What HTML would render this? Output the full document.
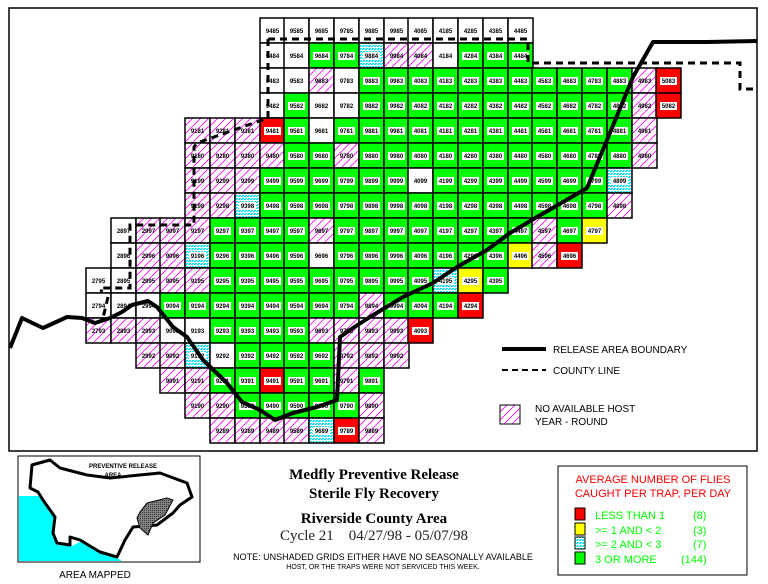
<!DOCTYPE html>
<html><head><meta charset="utf-8"><style>
body{margin:0;background:#fff;width:768px;height:584px;overflow:hidden}
svg{display:block}
rect.w,rect.g,rect.r,rect.y,rect.c,rect.h{width:25px;height:25px;stroke:#000;stroke-width:1.5}
rect.w{fill:#fff}rect.g{fill:#00ff00}rect.r{fill:#ff0000}rect.y{fill:#ffff00}rect.c{fill:url(#cy)}rect.h{fill:url(#ht)}
rect.l{width:17px;height:8px;fill:#fff}
text.t{font:bold 6px "Liberation Sans",sans-serif;text-anchor:middle}
</style></head><body>
<svg width="768" height="584" viewBox="0 0 768 584">
<defs>
<pattern id="ht" patternUnits="userSpaceOnUse" width="8" height="8"><rect width="8" height="8" fill="#fff"/><path d="M-1,9 L9,-1" stroke="#ff00ff" stroke-width="0.8"/></pattern>
<pattern id="cy" patternUnits="userSpaceOnUse" width="3" height="3"><rect width="3" height="3" fill="#fff"/><rect width="2" height="1" fill="#00e8ff"/><rect x="1" y="2" width="2" height="1" fill="#00e8ff"/></pattern>
<pattern id="gy" patternUnits="userSpaceOnUse" width="2" height="2"><rect width="2" height="2" fill="#808080"/><rect width="1" height="1" fill="#404040"/></pattern>
</defs>
<rect x="9" y="8" width="748" height="443" fill="none" stroke="#000" stroke-width="1.5"/>
<g>
<g transform="translate(260,18)"><rect class="w"/><text class="t" x="12.5" y="15">9485</text></g>
<g transform="translate(284,18)"><rect class="w"/><text class="t" x="12.5" y="15">9585</text></g>
<g transform="translate(309,18)"><rect class="w"/><text class="t" x="12.5" y="15">9685</text></g>
<g transform="translate(334,18)"><rect class="w"/><text class="t" x="12.5" y="15">9785</text></g>
<g transform="translate(359,18)"><rect class="w"/><text class="t" x="12.5" y="15">9885</text></g>
<g transform="translate(384,18)"><rect class="w"/><text class="t" x="12.5" y="15">9985</text></g>
<g transform="translate(408,18)"><rect class="w"/><text class="t" x="12.5" y="15">4085</text></g>
<g transform="translate(433,18)"><rect class="w"/><text class="t" x="12.5" y="15">4185</text></g>
<g transform="translate(458,18)"><rect class="w"/><text class="t" x="12.5" y="15">4285</text></g>
<g transform="translate(483,18)"><rect class="w"/><text class="t" x="12.5" y="15">4385</text></g>
<g transform="translate(508,18)"><rect class="w"/><text class="t" x="12.5" y="15">4485</text></g>
<g transform="translate(260,43)"><rect class="w"/><text class="t" x="12.5" y="15">9484</text></g>
<g transform="translate(284,43)"><rect class="w"/><text class="t" x="12.5" y="15">9584</text></g>
<g transform="translate(309,43)"><rect class="g"/><rect class="l" x="4" y="9"/><text class="t" x="12.5" y="15">9684</text></g>
<g transform="translate(334,43)"><rect class="g"/><rect class="l" x="4" y="9"/><text class="t" x="12.5" y="15">9784</text></g>
<g transform="translate(359,43)"><rect class="c"/><rect class="l" x="4" y="9"/><text class="t" x="12.5" y="15">9884</text></g>
<g transform="translate(384,43)"><rect class="h"/><text class="t" x="12.5" y="15">9984</text></g>
<g transform="translate(408,43)"><rect class="h"/><text class="t" x="12.5" y="15">4084</text></g>
<g transform="translate(433,43)"><rect class="w"/><text class="t" x="12.5" y="15">4184</text></g>
<g transform="translate(458,43)"><rect class="g"/><rect class="l" x="4" y="9"/><text class="t" x="12.5" y="15">4284</text></g>
<g transform="translate(483,43)"><rect class="g"/><rect class="l" x="4" y="9"/><text class="t" x="12.5" y="15">4384</text></g>
<g transform="translate(508,43)"><rect class="g"/><rect class="l" x="4" y="9"/><text class="t" x="12.5" y="15">4484</text></g>
<g transform="translate(260,68)"><rect class="w"/><text class="t" x="12.5" y="15">9483</text></g>
<g transform="translate(284,68)"><rect class="w"/><text class="t" x="12.5" y="15">9583</text></g>
<g transform="translate(309,68)"><rect class="h"/><text class="t" x="12.5" y="15">9683</text></g>
<g transform="translate(334,68)"><rect class="w"/><text class="t" x="12.5" y="15">9783</text></g>
<g transform="translate(359,68)"><rect class="g"/><rect class="l" x="4" y="9"/><text class="t" x="12.5" y="15">9883</text></g>
<g transform="translate(384,68)"><rect class="g"/><rect class="l" x="4" y="9"/><text class="t" x="12.5" y="15">9983</text></g>
<g transform="translate(408,68)"><rect class="g"/><rect class="l" x="4" y="9"/><text class="t" x="12.5" y="15">4083</text></g>
<g transform="translate(433,68)"><rect class="g"/><rect class="l" x="4" y="9"/><text class="t" x="12.5" y="15">4183</text></g>
<g transform="translate(458,68)"><rect class="g"/><rect class="l" x="4" y="9"/><text class="t" x="12.5" y="15">4283</text></g>
<g transform="translate(483,68)"><rect class="g"/><rect class="l" x="4" y="9"/><text class="t" x="12.5" y="15">4383</text></g>
<g transform="translate(508,68)"><rect class="g"/><rect class="l" x="4" y="9"/><text class="t" x="12.5" y="15">4483</text></g>
<g transform="translate(532,68)"><rect class="g"/><rect class="l" x="4" y="9"/><text class="t" x="12.5" y="15">4583</text></g>
<g transform="translate(557,68)"><rect class="g"/><rect class="l" x="4" y="9"/><text class="t" x="12.5" y="15">4683</text></g>
<g transform="translate(582,68)"><rect class="g"/><rect class="l" x="4" y="9"/><text class="t" x="12.5" y="15">4783</text></g>
<g transform="translate(607,68)"><rect class="g"/><rect class="l" x="4" y="9"/><text class="t" x="12.5" y="15">4883</text></g>
<g transform="translate(632,68)"><rect class="h"/><text class="t" x="12.5" y="15">4983</text></g>
<g transform="translate(656,68)"><rect class="r"/><rect class="l" x="4" y="9"/><text class="t" x="12.5" y="15">5083</text></g>
<g transform="translate(260,93)"><rect class="w"/><text class="t" x="12.5" y="15">9482</text></g>
<g transform="translate(284,93)"><rect class="g"/><rect class="l" x="4" y="9"/><text class="t" x="12.5" y="15">9582</text></g>
<g transform="translate(309,93)"><rect class="w"/><text class="t" x="12.5" y="15">9682</text></g>
<g transform="translate(334,93)"><rect class="w"/><text class="t" x="12.5" y="15">9782</text></g>
<g transform="translate(359,93)"><rect class="g"/><rect class="l" x="4" y="9"/><text class="t" x="12.5" y="15">9882</text></g>
<g transform="translate(384,93)"><rect class="g"/><rect class="l" x="4" y="9"/><text class="t" x="12.5" y="15">9982</text></g>
<g transform="translate(408,93)"><rect class="g"/><rect class="l" x="4" y="9"/><text class="t" x="12.5" y="15">4082</text></g>
<g transform="translate(433,93)"><rect class="g"/><rect class="l" x="4" y="9"/><text class="t" x="12.5" y="15">4182</text></g>
<g transform="translate(458,93)"><rect class="g"/><rect class="l" x="4" y="9"/><text class="t" x="12.5" y="15">4282</text></g>
<g transform="translate(483,93)"><rect class="g"/><rect class="l" x="4" y="9"/><text class="t" x="12.5" y="15">4382</text></g>
<g transform="translate(508,93)"><rect class="g"/><rect class="l" x="4" y="9"/><text class="t" x="12.5" y="15">4482</text></g>
<g transform="translate(532,93)"><rect class="g"/><rect class="l" x="4" y="9"/><text class="t" x="12.5" y="15">4582</text></g>
<g transform="translate(557,93)"><rect class="g"/><rect class="l" x="4" y="9"/><text class="t" x="12.5" y="15">4682</text></g>
<g transform="translate(582,93)"><rect class="g"/><rect class="l" x="4" y="9"/><text class="t" x="12.5" y="15">4782</text></g>
<g transform="translate(607,93)"><rect class="g"/><rect class="l" x="4" y="9"/><text class="t" x="12.5" y="15">4882</text></g>
<g transform="translate(632,93)"><rect class="h"/><text class="t" x="12.5" y="15">4982</text></g>
<g transform="translate(656,93)"><rect class="r"/><rect class="l" x="4" y="9"/><text class="t" x="12.5" y="15">5082</text></g>
<g transform="translate(185,118)"><rect class="h"/><text class="t" x="12.5" y="15">9181</text></g>
<g transform="translate(210,118)"><rect class="h"/><text class="t" x="12.5" y="15">9281</text></g>
<g transform="translate(235,118)"><rect class="h"/><text class="t" x="12.5" y="15">9381</text></g>
<g transform="translate(260,118)"><rect class="r"/><rect class="l" x="4" y="9"/><text class="t" x="12.5" y="15">9481</text></g>
<g transform="translate(284,118)"><rect class="g"/><rect class="l" x="4" y="9"/><text class="t" x="12.5" y="15">9581</text></g>
<g transform="translate(309,118)"><rect class="w"/><text class="t" x="12.5" y="15">9681</text></g>
<g transform="translate(334,118)"><rect class="g"/><rect class="l" x="4" y="9"/><text class="t" x="12.5" y="15">9781</text></g>
<g transform="translate(359,118)"><rect class="g"/><rect class="l" x="4" y="9"/><text class="t" x="12.5" y="15">9881</text></g>
<g transform="translate(384,118)"><rect class="g"/><rect class="l" x="4" y="9"/><text class="t" x="12.5" y="15">9981</text></g>
<g transform="translate(408,118)"><rect class="g"/><rect class="l" x="4" y="9"/><text class="t" x="12.5" y="15">4081</text></g>
<g transform="translate(433,118)"><rect class="g"/><rect class="l" x="4" y="9"/><text class="t" x="12.5" y="15">4181</text></g>
<g transform="translate(458,118)"><rect class="g"/><rect class="l" x="4" y="9"/><text class="t" x="12.5" y="15">4281</text></g>
<g transform="translate(483,118)"><rect class="g"/><rect class="l" x="4" y="9"/><text class="t" x="12.5" y="15">4381</text></g>
<g transform="translate(508,118)"><rect class="g"/><rect class="l" x="4" y="9"/><text class="t" x="12.5" y="15">4481</text></g>
<g transform="translate(532,118)"><rect class="g"/><rect class="l" x="4" y="9"/><text class="t" x="12.5" y="15">4581</text></g>
<g transform="translate(557,118)"><rect class="g"/><rect class="l" x="4" y="9"/><text class="t" x="12.5" y="15">4681</text></g>
<g transform="translate(582,118)"><rect class="g"/><rect class="l" x="4" y="9"/><text class="t" x="12.5" y="15">4781</text></g>
<g transform="translate(607,118)"><rect class="g"/><rect class="l" x="4" y="9"/><text class="t" x="12.5" y="15">4881</text></g>
<g transform="translate(632,118)"><rect class="h"/><text class="t" x="12.5" y="15">4981</text></g>
<g transform="translate(185,143)"><rect class="h"/><text class="t" x="12.5" y="15">9180</text></g>
<g transform="translate(210,143)"><rect class="h"/><text class="t" x="12.5" y="15">9280</text></g>
<g transform="translate(235,143)"><rect class="h"/><text class="t" x="12.5" y="15">9380</text></g>
<g transform="translate(260,143)"><rect class="h"/><text class="t" x="12.5" y="15">9480</text></g>
<g transform="translate(284,143)"><rect class="g"/><rect class="l" x="4" y="9"/><text class="t" x="12.5" y="15">9580</text></g>
<g transform="translate(309,143)"><rect class="g"/><rect class="l" x="4" y="9"/><text class="t" x="12.5" y="15">9680</text></g>
<g transform="translate(334,143)"><rect class="h"/><text class="t" x="12.5" y="15">9780</text></g>
<g transform="translate(359,143)"><rect class="g"/><rect class="l" x="4" y="9"/><text class="t" x="12.5" y="15">9880</text></g>
<g transform="translate(384,143)"><rect class="g"/><rect class="l" x="4" y="9"/><text class="t" x="12.5" y="15">9980</text></g>
<g transform="translate(408,143)"><rect class="g"/><rect class="l" x="4" y="9"/><text class="t" x="12.5" y="15">4080</text></g>
<g transform="translate(433,143)"><rect class="g"/><rect class="l" x="4" y="9"/><text class="t" x="12.5" y="15">4180</text></g>
<g transform="translate(458,143)"><rect class="g"/><rect class="l" x="4" y="9"/><text class="t" x="12.5" y="15">4280</text></g>
<g transform="translate(483,143)"><rect class="g"/><rect class="l" x="4" y="9"/><text class="t" x="12.5" y="15">4380</text></g>
<g transform="translate(508,143)"><rect class="g"/><rect class="l" x="4" y="9"/><text class="t" x="12.5" y="15">4480</text></g>
<g transform="translate(532,143)"><rect class="g"/><rect class="l" x="4" y="9"/><text class="t" x="12.5" y="15">4580</text></g>
<g transform="translate(557,143)"><rect class="g"/><rect class="l" x="4" y="9"/><text class="t" x="12.5" y="15">4680</text></g>
<g transform="translate(582,143)"><rect class="g"/><rect class="l" x="4" y="9"/><text class="t" x="12.5" y="15">4780</text></g>
<g transform="translate(607,143)"><rect class="g"/><rect class="l" x="4" y="9"/><text class="t" x="12.5" y="15">4880</text></g>
<g transform="translate(632,143)"><rect class="h"/><text class="t" x="12.5" y="15">4980</text></g>
<g transform="translate(185,168)"><rect class="h"/><text class="t" x="12.5" y="15">9199</text></g>
<g transform="translate(210,168)"><rect class="h"/><text class="t" x="12.5" y="15">9299</text></g>
<g transform="translate(235,168)"><rect class="h"/><text class="t" x="12.5" y="15">9399</text></g>
<g transform="translate(260,168)"><rect class="g"/><rect class="l" x="4" y="9"/><text class="t" x="12.5" y="15">9499</text></g>
<g transform="translate(284,168)"><rect class="g"/><rect class="l" x="4" y="9"/><text class="t" x="12.5" y="15">9599</text></g>
<g transform="translate(309,168)"><rect class="g"/><rect class="l" x="4" y="9"/><text class="t" x="12.5" y="15">9699</text></g>
<g transform="translate(334,168)"><rect class="g"/><rect class="l" x="4" y="9"/><text class="t" x="12.5" y="15">9799</text></g>
<g transform="translate(359,168)"><rect class="g"/><rect class="l" x="4" y="9"/><text class="t" x="12.5" y="15">9899</text></g>
<g transform="translate(384,168)"><rect class="g"/><rect class="l" x="4" y="9"/><text class="t" x="12.5" y="15">9999</text></g>
<g transform="translate(408,168)"><rect class="w"/><text class="t" x="12.5" y="15">4099</text></g>
<g transform="translate(433,168)"><rect class="g"/><rect class="l" x="4" y="9"/><text class="t" x="12.5" y="15">4199</text></g>
<g transform="translate(458,168)"><rect class="g"/><rect class="l" x="4" y="9"/><text class="t" x="12.5" y="15">4299</text></g>
<g transform="translate(483,168)"><rect class="g"/><rect class="l" x="4" y="9"/><text class="t" x="12.5" y="15">4399</text></g>
<g transform="translate(508,168)"><rect class="g"/><rect class="l" x="4" y="9"/><text class="t" x="12.5" y="15">4499</text></g>
<g transform="translate(532,168)"><rect class="g"/><rect class="l" x="4" y="9"/><text class="t" x="12.5" y="15">4599</text></g>
<g transform="translate(557,168)"><rect class="g"/><rect class="l" x="4" y="9"/><text class="t" x="12.5" y="15">4699</text></g>
<g transform="translate(582,168)"><rect class="g"/><rect class="l" x="4" y="9"/><text class="t" x="12.5" y="15">4799</text></g>
<g transform="translate(607,168)"><rect class="c"/><rect class="l" x="4" y="9"/><text class="t" x="12.5" y="15">4899</text></g>
<g transform="translate(185,193)"><rect class="h"/><text class="t" x="12.5" y="15">9198</text></g>
<g transform="translate(210,193)"><rect class="h"/><text class="t" x="12.5" y="15">9298</text></g>
<g transform="translate(235,193)"><rect class="c"/><rect class="l" x="4" y="9"/><text class="t" x="12.5" y="15">9398</text></g>
<g transform="translate(260,193)"><rect class="g"/><rect class="l" x="4" y="9"/><text class="t" x="12.5" y="15">9498</text></g>
<g transform="translate(284,193)"><rect class="g"/><rect class="l" x="4" y="9"/><text class="t" x="12.5" y="15">9598</text></g>
<g transform="translate(309,193)"><rect class="g"/><rect class="l" x="4" y="9"/><text class="t" x="12.5" y="15">9698</text></g>
<g transform="translate(334,193)"><rect class="g"/><rect class="l" x="4" y="9"/><text class="t" x="12.5" y="15">9798</text></g>
<g transform="translate(359,193)"><rect class="g"/><rect class="l" x="4" y="9"/><text class="t" x="12.5" y="15">9898</text></g>
<g transform="translate(384,193)"><rect class="g"/><rect class="l" x="4" y="9"/><text class="t" x="12.5" y="15">9998</text></g>
<g transform="translate(408,193)"><rect class="g"/><rect class="l" x="4" y="9"/><text class="t" x="12.5" y="15">4098</text></g>
<g transform="translate(433,193)"><rect class="g"/><rect class="l" x="4" y="9"/><text class="t" x="12.5" y="15">4198</text></g>
<g transform="translate(458,193)"><rect class="g"/><rect class="l" x="4" y="9"/><text class="t" x="12.5" y="15">4298</text></g>
<g transform="translate(483,193)"><rect class="g"/><rect class="l" x="4" y="9"/><text class="t" x="12.5" y="15">4398</text></g>
<g transform="translate(508,193)"><rect class="g"/><rect class="l" x="4" y="9"/><text class="t" x="12.5" y="15">4498</text></g>
<g transform="translate(532,193)"><rect class="g"/><rect class="l" x="4" y="9"/><text class="t" x="12.5" y="15">4598</text></g>
<g transform="translate(557,193)"><rect class="g"/><rect class="l" x="4" y="9"/><text class="t" x="12.5" y="15">4698</text></g>
<g transform="translate(582,193)"><rect class="g"/><rect class="l" x="4" y="9"/><text class="t" x="12.5" y="15">4798</text></g>
<g transform="translate(607,193)"><rect class="h"/><text class="t" x="12.5" y="15">4898</text></g>
<g transform="translate(111,218)"><rect class="w"/><text class="t" x="12.5" y="15">2897</text></g>
<g transform="translate(136,218)"><rect class="h"/><text class="t" x="12.5" y="15">2997</text></g>
<g transform="translate(160,218)"><rect class="h"/><text class="t" x="12.5" y="15">9097</text></g>
<g transform="translate(185,218)"><rect class="h"/><text class="t" x="12.5" y="15">9197</text></g>
<g transform="translate(210,218)"><rect class="g"/><rect class="l" x="4" y="9"/><text class="t" x="12.5" y="15">9297</text></g>
<g transform="translate(235,218)"><rect class="g"/><rect class="l" x="4" y="9"/><text class="t" x="12.5" y="15">9397</text></g>
<g transform="translate(260,218)"><rect class="g"/><rect class="l" x="4" y="9"/><text class="t" x="12.5" y="15">9497</text></g>
<g transform="translate(284,218)"><rect class="g"/><rect class="l" x="4" y="9"/><text class="t" x="12.5" y="15">9597</text></g>
<g transform="translate(309,218)"><rect class="h"/><text class="t" x="12.5" y="15">9697</text></g>
<g transform="translate(334,218)"><rect class="g"/><rect class="l" x="4" y="9"/><text class="t" x="12.5" y="15">9797</text></g>
<g transform="translate(359,218)"><rect class="g"/><rect class="l" x="4" y="9"/><text class="t" x="12.5" y="15">9897</text></g>
<g transform="translate(384,218)"><rect class="g"/><rect class="l" x="4" y="9"/><text class="t" x="12.5" y="15">9997</text></g>
<g transform="translate(408,218)"><rect class="g"/><rect class="l" x="4" y="9"/><text class="t" x="12.5" y="15">4097</text></g>
<g transform="translate(433,218)"><rect class="g"/><rect class="l" x="4" y="9"/><text class="t" x="12.5" y="15">4197</text></g>
<g transform="translate(458,218)"><rect class="g"/><rect class="l" x="4" y="9"/><text class="t" x="12.5" y="15">4297</text></g>
<g transform="translate(483,218)"><rect class="g"/><rect class="l" x="4" y="9"/><text class="t" x="12.5" y="15">4397</text></g>
<g transform="translate(508,218)"><rect class="g"/><rect class="l" x="4" y="9"/><text class="t" x="12.5" y="15">4497</text></g>
<g transform="translate(532,218)"><rect class="h"/><text class="t" x="12.5" y="15">4597</text></g>
<g transform="translate(557,218)"><rect class="g"/><rect class="l" x="4" y="9"/><text class="t" x="12.5" y="15">4697</text></g>
<g transform="translate(582,218)"><rect class="y"/><rect class="l" x="4" y="9"/><text class="t" x="12.5" y="15">4797</text></g>
<g transform="translate(111,243)"><rect class="w"/><text class="t" x="12.5" y="15">2896</text></g>
<g transform="translate(136,243)"><rect class="h"/><text class="t" x="12.5" y="15">2996</text></g>
<g transform="translate(160,243)"><rect class="h"/><text class="t" x="12.5" y="15">9096</text></g>
<g transform="translate(185,243)"><rect class="c"/><rect class="l" x="4" y="9"/><text class="t" x="12.5" y="15">9196</text></g>
<g transform="translate(210,243)"><rect class="g"/><rect class="l" x="4" y="9"/><text class="t" x="12.5" y="15">9296</text></g>
<g transform="translate(235,243)"><rect class="g"/><rect class="l" x="4" y="9"/><text class="t" x="12.5" y="15">9396</text></g>
<g transform="translate(260,243)"><rect class="g"/><rect class="l" x="4" y="9"/><text class="t" x="12.5" y="15">9496</text></g>
<g transform="translate(284,243)"><rect class="g"/><rect class="l" x="4" y="9"/><text class="t" x="12.5" y="15">9596</text></g>
<g transform="translate(309,243)"><rect class="w"/><text class="t" x="12.5" y="15">9696</text></g>
<g transform="translate(334,243)"><rect class="g"/><rect class="l" x="4" y="9"/><text class="t" x="12.5" y="15">9796</text></g>
<g transform="translate(359,243)"><rect class="g"/><rect class="l" x="4" y="9"/><text class="t" x="12.5" y="15">9896</text></g>
<g transform="translate(384,243)"><rect class="g"/><rect class="l" x="4" y="9"/><text class="t" x="12.5" y="15">9996</text></g>
<g transform="translate(408,243)"><rect class="g"/><rect class="l" x="4" y="9"/><text class="t" x="12.5" y="15">4096</text></g>
<g transform="translate(433,243)"><rect class="g"/><rect class="l" x="4" y="9"/><text class="t" x="12.5" y="15">4196</text></g>
<g transform="translate(458,243)"><rect class="g"/><rect class="l" x="4" y="9"/><text class="t" x="12.5" y="15">4296</text></g>
<g transform="translate(483,243)"><rect class="g"/><rect class="l" x="4" y="9"/><text class="t" x="12.5" y="15">4396</text></g>
<g transform="translate(508,243)"><rect class="y"/><rect class="l" x="4" y="9"/><text class="t" x="12.5" y="15">4496</text></g>
<g transform="translate(532,243)"><rect class="h"/><text class="t" x="12.5" y="15">4596</text></g>
<g transform="translate(557,243)"><rect class="r"/><rect class="l" x="4" y="9"/><text class="t" x="12.5" y="15">4696</text></g>
<g transform="translate(86,268)"><rect class="w"/><text class="t" x="12.5" y="15">2795</text></g>
<g transform="translate(111,268)"><rect class="w"/><text class="t" x="12.5" y="15">2895</text></g>
<g transform="translate(136,268)"><rect class="h"/><text class="t" x="12.5" y="15">2995</text></g>
<g transform="translate(160,268)"><rect class="h"/><text class="t" x="12.5" y="15">9095</text></g>
<g transform="translate(185,268)"><rect class="h"/><text class="t" x="12.5" y="15">9195</text></g>
<g transform="translate(210,268)"><rect class="g"/><rect class="l" x="4" y="9"/><text class="t" x="12.5" y="15">9295</text></g>
<g transform="translate(235,268)"><rect class="g"/><rect class="l" x="4" y="9"/><text class="t" x="12.5" y="15">9395</text></g>
<g transform="translate(260,268)"><rect class="g"/><rect class="l" x="4" y="9"/><text class="t" x="12.5" y="15">9495</text></g>
<g transform="translate(284,268)"><rect class="g"/><rect class="l" x="4" y="9"/><text class="t" x="12.5" y="15">9595</text></g>
<g transform="translate(309,268)"><rect class="g"/><rect class="l" x="4" y="9"/><text class="t" x="12.5" y="15">9695</text></g>
<g transform="translate(334,268)"><rect class="g"/><rect class="l" x="4" y="9"/><text class="t" x="12.5" y="15">9795</text></g>
<g transform="translate(359,268)"><rect class="g"/><rect class="l" x="4" y="9"/><text class="t" x="12.5" y="15">9895</text></g>
<g transform="translate(384,268)"><rect class="g"/><rect class="l" x="4" y="9"/><text class="t" x="12.5" y="15">9995</text></g>
<g transform="translate(408,268)"><rect class="g"/><rect class="l" x="4" y="9"/><text class="t" x="12.5" y="15">4095</text></g>
<g transform="translate(433,268)"><rect class="c"/><rect class="l" x="4" y="9"/><text class="t" x="12.5" y="15">4195</text></g>
<g transform="translate(458,268)"><rect class="y"/><rect class="l" x="4" y="9"/><text class="t" x="12.5" y="15">4295</text></g>
<g transform="translate(483,268)"><rect class="g"/><rect class="l" x="4" y="9"/><text class="t" x="12.5" y="15">4395</text></g>
<g transform="translate(86,293)"><rect class="w"/><text class="t" x="12.5" y="15">2794</text></g>
<g transform="translate(111,293)"><rect class="w"/><text class="t" x="12.5" y="15">2894</text></g>
<g transform="translate(136,293)"><rect class="w"/><text class="t" x="12.5" y="15">2994</text></g>
<g transform="translate(160,293)"><rect class="g"/><rect class="l" x="4" y="9"/><text class="t" x="12.5" y="15">9094</text></g>
<g transform="translate(185,293)"><rect class="g"/><rect class="l" x="4" y="9"/><text class="t" x="12.5" y="15">9194</text></g>
<g transform="translate(210,293)"><rect class="g"/><rect class="l" x="4" y="9"/><text class="t" x="12.5" y="15">9294</text></g>
<g transform="translate(235,293)"><rect class="g"/><rect class="l" x="4" y="9"/><text class="t" x="12.5" y="15">9394</text></g>
<g transform="translate(260,293)"><rect class="g"/><rect class="l" x="4" y="9"/><text class="t" x="12.5" y="15">9494</text></g>
<g transform="translate(284,293)"><rect class="g"/><rect class="l" x="4" y="9"/><text class="t" x="12.5" y="15">9594</text></g>
<g transform="translate(309,293)"><rect class="g"/><rect class="l" x="4" y="9"/><text class="t" x="12.5" y="15">9694</text></g>
<g transform="translate(334,293)"><rect class="g"/><rect class="l" x="4" y="9"/><text class="t" x="12.5" y="15">9794</text></g>
<g transform="translate(359,293)"><rect class="h"/><text class="t" x="12.5" y="15">9894</text></g>
<g transform="translate(384,293)"><rect class="g"/><rect class="l" x="4" y="9"/><text class="t" x="12.5" y="15">9994</text></g>
<g transform="translate(408,293)"><rect class="g"/><rect class="l" x="4" y="9"/><text class="t" x="12.5" y="15">4094</text></g>
<g transform="translate(433,293)"><rect class="g"/><rect class="l" x="4" y="9"/><text class="t" x="12.5" y="15">4194</text></g>
<g transform="translate(458,293)"><rect class="r"/><rect class="l" x="4" y="9"/><text class="t" x="12.5" y="15">4294</text></g>
<g transform="translate(86,318)"><rect class="h"/><text class="t" x="12.5" y="15">2793</text></g>
<g transform="translate(111,318)"><rect class="h"/><text class="t" x="12.5" y="15">2893</text></g>
<g transform="translate(136,318)"><rect class="h"/><text class="t" x="12.5" y="15">2993</text></g>
<g transform="translate(160,318)"><rect class="w"/><text class="t" x="12.5" y="15">9093</text></g>
<g transform="translate(185,318)"><rect class="w"/><text class="t" x="12.5" y="15">9193</text></g>
<g transform="translate(210,318)"><rect class="g"/><rect class="l" x="4" y="9"/><text class="t" x="12.5" y="15">9293</text></g>
<g transform="translate(235,318)"><rect class="g"/><rect class="l" x="4" y="9"/><text class="t" x="12.5" y="15">9393</text></g>
<g transform="translate(260,318)"><rect class="g"/><rect class="l" x="4" y="9"/><text class="t" x="12.5" y="15">9493</text></g>
<g transform="translate(284,318)"><rect class="g"/><rect class="l" x="4" y="9"/><text class="t" x="12.5" y="15">9593</text></g>
<g transform="translate(309,318)"><rect class="h"/><text class="t" x="12.5" y="15">9693</text></g>
<g transform="translate(334,318)"><rect class="h"/><text class="t" x="12.5" y="15">9793</text></g>
<g transform="translate(359,318)"><rect class="h"/><text class="t" x="12.5" y="15">9893</text></g>
<g transform="translate(384,318)"><rect class="h"/><text class="t" x="12.5" y="15">9993</text></g>
<g transform="translate(408,318)"><rect class="r"/><rect class="l" x="4" y="9"/><text class="t" x="12.5" y="15">4093</text></g>
<g transform="translate(136,343)"><rect class="h"/><text class="t" x="12.5" y="15">2992</text></g>
<g transform="translate(160,343)"><rect class="h"/><text class="t" x="12.5" y="15">9092</text></g>
<g transform="translate(185,343)"><rect class="c"/><rect class="l" x="4" y="9"/><text class="t" x="12.5" y="15">9192</text></g>
<g transform="translate(210,343)"><rect class="w"/><text class="t" x="12.5" y="15">9292</text></g>
<g transform="translate(235,343)"><rect class="g"/><rect class="l" x="4" y="9"/><text class="t" x="12.5" y="15">9392</text></g>
<g transform="translate(260,343)"><rect class="g"/><rect class="l" x="4" y="9"/><text class="t" x="12.5" y="15">9492</text></g>
<g transform="translate(284,343)"><rect class="g"/><rect class="l" x="4" y="9"/><text class="t" x="12.5" y="15">9592</text></g>
<g transform="translate(309,343)"><rect class="g"/><rect class="l" x="4" y="9"/><text class="t" x="12.5" y="15">9692</text></g>
<g transform="translate(334,343)"><rect class="h"/><text class="t" x="12.5" y="15">9792</text></g>
<g transform="translate(359,343)"><rect class="h"/><text class="t" x="12.5" y="15">9892</text></g>
<g transform="translate(384,343)"><rect class="h"/><text class="t" x="12.5" y="15">9992</text></g>
<g transform="translate(160,368)"><rect class="h"/><text class="t" x="12.5" y="15">9091</text></g>
<g transform="translate(185,368)"><rect class="h"/><text class="t" x="12.5" y="15">9191</text></g>
<g transform="translate(210,368)"><rect class="g"/><rect class="l" x="4" y="9"/><text class="t" x="12.5" y="15">9291</text></g>
<g transform="translate(235,368)"><rect class="g"/><rect class="l" x="4" y="9"/><text class="t" x="12.5" y="15">9391</text></g>
<g transform="translate(260,368)"><rect class="r"/><rect class="l" x="4" y="9"/><text class="t" x="12.5" y="15">9491</text></g>
<g transform="translate(284,368)"><rect class="g"/><rect class="l" x="4" y="9"/><text class="t" x="12.5" y="15">9591</text></g>
<g transform="translate(309,368)"><rect class="g"/><rect class="l" x="4" y="9"/><text class="t" x="12.5" y="15">9691</text></g>
<g transform="translate(334,368)"><rect class="h"/><text class="t" x="12.5" y="15">9791</text></g>
<g transform="translate(359,368)"><rect class="g"/><rect class="l" x="4" y="9"/><text class="t" x="12.5" y="15">9891</text></g>
<g transform="translate(185,393)"><rect class="h"/><text class="t" x="12.5" y="15">9190</text></g>
<g transform="translate(210,393)"><rect class="h"/><text class="t" x="12.5" y="15">9290</text></g>
<g transform="translate(235,393)"><rect class="g"/><rect class="l" x="4" y="9"/><text class="t" x="12.5" y="15">9390</text></g>
<g transform="translate(260,393)"><rect class="g"/><rect class="l" x="4" y="9"/><text class="t" x="12.5" y="15">9490</text></g>
<g transform="translate(284,393)"><rect class="g"/><rect class="l" x="4" y="9"/><text class="t" x="12.5" y="15">9590</text></g>
<g transform="translate(309,393)"><rect class="g"/><rect class="l" x="4" y="9"/><text class="t" x="12.5" y="15">9690</text></g>
<g transform="translate(334,393)"><rect class="g"/><rect class="l" x="4" y="9"/><text class="t" x="12.5" y="15">9790</text></g>
<g transform="translate(359,393)"><rect class="h"/><text class="t" x="12.5" y="15">9890</text></g>
<g transform="translate(210,418)"><rect class="h"/><text class="t" x="12.5" y="15">9289</text></g>
<g transform="translate(235,418)"><rect class="h"/><text class="t" x="12.5" y="15">9389</text></g>
<g transform="translate(260,418)"><rect class="h"/><text class="t" x="12.5" y="15">9489</text></g>
<g transform="translate(284,418)"><rect class="h"/><text class="t" x="12.5" y="15">9589</text></g>
<g transform="translate(309,418)"><rect class="c"/><rect class="l" x="4" y="9"/><text class="t" x="12.5" y="15">9689</text></g>
<g transform="translate(334,418)"><rect class="r"/><rect class="l" x="4" y="9"/><text class="t" x="12.5" y="15">9789</text></g>
<g transform="translate(359,418)"><rect class="h"/><text class="t" x="12.5" y="15">9889</text></g>
</g>
<path d="M268,39 L528,39 L528,63 L740,63 L740,89 L757,89 M268,39 L268,118 L197,143 L194,147 L194,225 L130,225 L130,288 L100,288 L102,292 M108,297 L103,318" fill="none" stroke="#000" stroke-width="3" stroke-dasharray="7,5"/>
<path d="M10,348 L22,318 L43,328 L67,317 L82,318 L95,323 L110,318 L122,312 L132,305 L148,301 L157,307 L173,327 L187,337 L203,360 L227,383 L242,402 L260,410 L275,420 L293,413 L317,407 L337,400 L340,337 L353,328 L370,317 L403,297 L433,283 L457,267 L487,250 L510,233 L537,217 L563,202 L587,188 L607,140 L633,77 L653,42 L707,42 L757,41" fill="none" stroke="#000" stroke-width="4" stroke-linejoin="round"/>
<line x1="502" y1="349" x2="546" y2="349" stroke="#000" stroke-width="4"/>
<text x="553" y="353" font-family="Liberation Sans,sans-serif" font-size="10">RELEASE AREA BOUNDARY</text>
<line x1="502" y1="370" x2="546" y2="370" stroke="#000" stroke-width="2" stroke-dasharray="6,4"/>
<text x="553" y="374" font-family="Liberation Sans,sans-serif" font-size="10">COUNTY LINE</text>
<rect x="500" y="405" width="20" height="19" fill="url(#ht)" stroke="#000" stroke-width="1"/>
<text x="535" y="412" font-family="Liberation Sans,sans-serif" font-size="10">NO AVAILABLE HOST</text>
<text x="535" y="425" font-family="Liberation Sans,sans-serif" font-size="10">YEAR - ROUND</text>
<rect x="18" y="456" width="182" height="106" fill="#fff" stroke="#000" stroke-width="1"/>
<path d="M19,496 L40,496 L47,505 L54,518 L53,535 L57,545 L72,546 L80,542 L100,553 L117,558 L122,561 L19,561 Z" fill="#00ffff"/>
<path d="M32,465 L50,460 L60,468 L87,475 L110,478 L160,473 L187,483 L192,497 L180,505 L173,513 L157,525 L133,527 L125,540 L117,557 L100,552 L80,540 L70,537 L70,545 L57,543 L53,533 L55,517 L43,500 L38,492 L30,488 Z" fill="#fff" stroke="#000" stroke-width="3" stroke-linejoin="round"/>
<path d="M147,503 L167,498 L173,500 L165,515 L153,523 L148,535 L140,528 L137,518 L140,512 Z" fill="url(#gy)" stroke="#000" stroke-width="1"/>
<text x="123" y="468" text-anchor="middle" font-family="Liberation Sans,sans-serif" font-size="6" font-weight="bold">PREVENTIVE RELEASE</text>
<text x="113" y="477" text-anchor="middle" font-family="Liberation Sans,sans-serif" font-size="6" font-weight="bold">AREA</text>
<text x="95" y="578" text-anchor="middle" font-family="Liberation Sans,sans-serif" font-size="10">AREA MAPPED</text>
<g font-family="Liberation Serif,serif" text-anchor="middle">
<text x="374" y="479" font-size="15" font-weight="bold">Medfly Preventive Release</text>
<text x="374" y="498" font-size="15" font-weight="bold">Sterile Fly Recovery</text>
<text x="374" y="523" font-size="15" font-weight="bold">Riverside County Area</text>
<text x="374" y="540" font-size="15" font-weight="300" fill="#222">Cycle 21&#160;&#160;&#160;&#160;04/27/98 - 05/07/98</text>
</g>
<text x="383" y="560" text-anchor="middle" font-family="Liberation Sans,sans-serif" font-size="9">NOTE: UNSHADED GRIDS EITHER HAVE NO SEASONALLY AVAILABLE</text>
<text x="383" y="569" text-anchor="middle" font-family="Liberation Sans,sans-serif" font-size="7">HOST, OR THE TRAPS WERE NOT SERVICED THIS WEEK.</text>
<rect x="558" y="466" width="189" height="109" fill="#fff" stroke="#000" stroke-width="1"/>
<g font-family="Liberation Sans,sans-serif" font-size="11">
<text x="653" y="483" text-anchor="middle" fill="#ff0000">AVERAGE NUMBER OF FLIES</text>
<text x="653" y="497" text-anchor="middle" fill="#ff0000">CAUGHT PER TRAP, PER DAY</text>
<g fill="#00ff00">
<text x="595" y="519">LESS THAN 1</text><text x="693" y="519">(8)</text>
<text x="595" y="534">&gt;= 1 AND &lt; 2</text><text x="693" y="534">(3)</text>
<text x="595" y="548">&gt;= 2 AND &lt; 3</text><text x="693" y="548">(7)</text>
<text x="595" y="563">3 OR MORE</text><text x="681" y="563">(144)</text>
</g>
</g>
<rect x="575" y="508" width="10" height="12" fill="#ff0000" stroke="#000"/>
<rect x="575" y="523" width="10" height="12" fill="#ffff00" stroke="#000"/>
<rect x="575" y="537" width="10" height="12" fill="url(#cy)" stroke="#000"/>
<rect x="575" y="552" width="10" height="12" fill="#00ff00" stroke="#000"/>
</svg>
</body></html>
